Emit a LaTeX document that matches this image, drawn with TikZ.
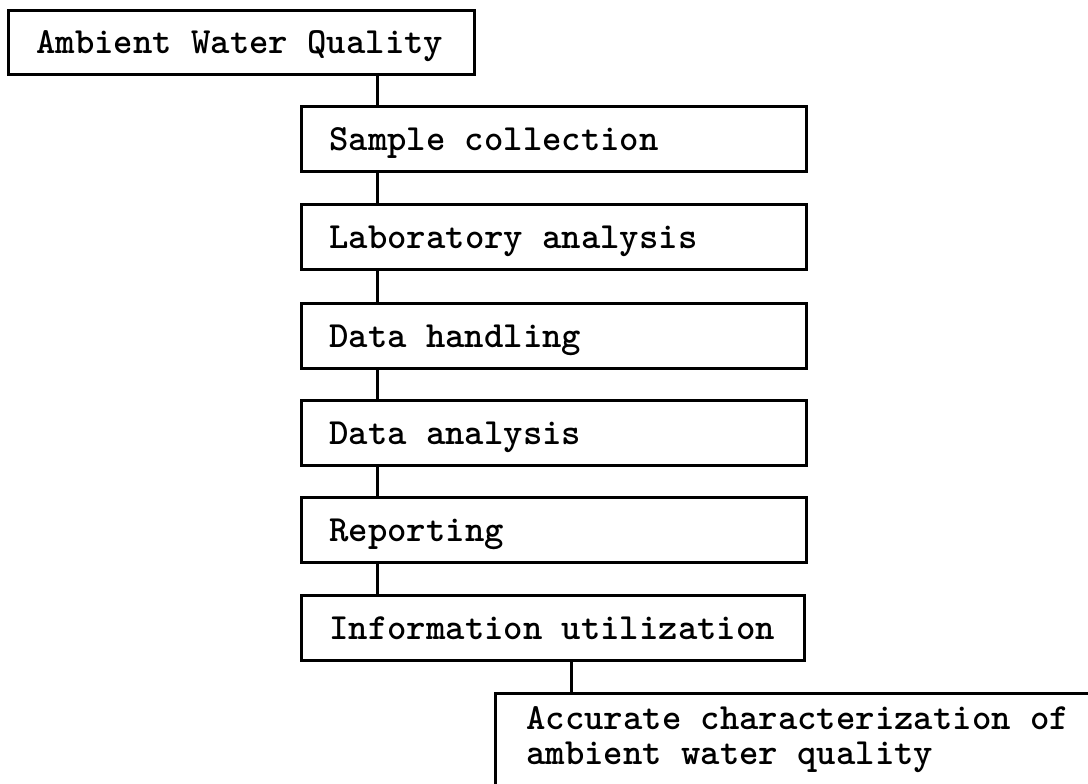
\documentclass[tikz,border=0pt]{standalone}

\begin{document}
\begin{tikzpicture}[
    stage/.style={draw, line width=1.6pt, anchor=north west, text width=8.98cm, inner xsep=0.56cm, inner ysep=0pt, minimum height=1.3cm, font=\ttfamily\bfseries\fontsize{21pt}{19.9pt}\selectfont, execute at begin node={\spaceskip0.525em\relax}},
    oneline/.style={text height=14pt, text depth=1.2pt},
    link/.style={line width=1.2pt}
]
\clip (0,0) rectangle (21.76,-15.68);
\node[stage, oneline, text width=8.2cm, minimum height=1.28cm] (awq) at (0.14,-0.18) {Ambient Water Quality};
\node[stage, oneline] (sample) at (6.0,-2.1) {Sample collection};
\node[stage, oneline] (lab) at (6.0,-4.06) {Laboratory analysis};
\node[stage, oneline] (handling) at (6.0,-6.04) {Data handling};
\node[stage, oneline] (danalysis) at (6.0,-7.98) {Data analysis};
\node[stage, oneline] (report) at (6.0,-9.92) {Reporting};
\node[stage, oneline, text width=8.94cm] (info) at (6.0,-11.88) {Information utilization};
\node[stage, text width=12cm, inner xsep=0.62cm, inner ysep=0.26cm] (result) at (9.88,-13.84) {Accurate characterization of\\ambient water quality};
\foreach \a/\b in {awq/sample, sample/lab, lab/handling, handling/danalysis, danalysis/report, report/info, info/result} {
    \coordinate (top\b) at ([xshift=1.55cm]\b.north west);
    \draw[link] (top\b) -- (top\b |- \a.south);
}
\end{tikzpicture}
\end{document}
